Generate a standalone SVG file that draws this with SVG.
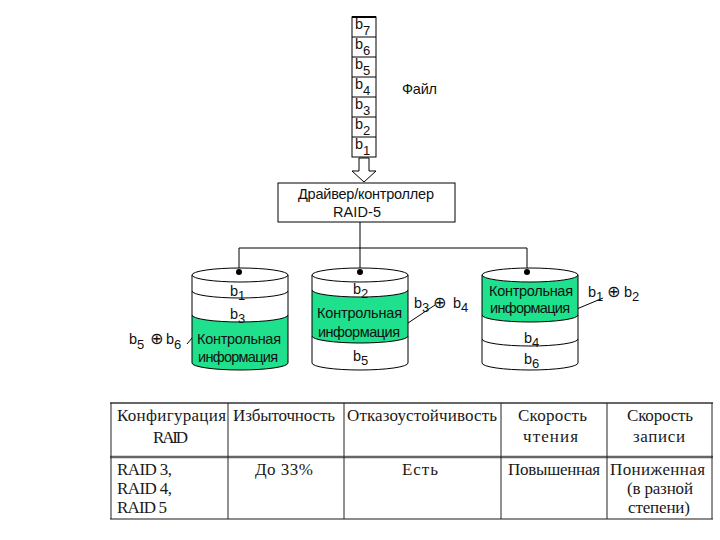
<svg xmlns="http://www.w3.org/2000/svg" width="720" height="540" viewBox="0 0 720 540">
<style>
.t{font-family:"Liberation Sans",Arial,sans-serif;font-size:14.5px;fill:#111}
.sub{font-size:13px}
.x{font-family:"DejaVu Sans",sans-serif;font-size:16px}
.tb{font-family:"Liberation Serif","Times New Roman",serif;font-size:17px;fill:#1a1a1a}
.ln{stroke:#000;stroke-width:1;fill:none}
.g{fill:#1fe08c}
.w{fill:#fff}
</style>
<rect width="720" height="540" fill="#fff"/>

<g id="file">
  <rect x="352" y="17" width="24" height="140" fill="#fff" stroke="#000"/>
  <line x1="352" y1="17" x2="376" y2="17" stroke="#000" stroke-width="2"/>
  <g class="ln">
    <line x1="352" y1="37" x2="376" y2="37"/>
    <line x1="352" y1="57" x2="376" y2="57"/>
    <line x1="352" y1="77" x2="376" y2="77"/>
    <line x1="352" y1="97" x2="376" y2="97"/>
    <line x1="352" y1="117" x2="376" y2="117"/>
    <line x1="352" y1="137" x2="376" y2="137"/>
  </g>
  <text class="t" x="355" y="29">b<tspan class="sub" dy="6">7</tspan></text>
  <text class="t" x="355" y="49">b<tspan class="sub" dy="6">6</tspan></text>
  <text class="t" x="355" y="69">b<tspan class="sub" dy="6">5</tspan></text>
  <text class="t" x="355" y="89">b<tspan class="sub" dy="6">4</tspan></text>
  <text class="t" x="355" y="109">b<tspan class="sub" dy="6">3</tspan></text>
  <text class="t" x="355" y="129">b<tspan class="sub" dy="6">2</tspan></text>
  <text class="t" x="355" y="149">b<tspan class="sub" dy="6">1</tspan></text>
  <text class="t" x="402" y="94" textLength="35">Файл</text>
</g>

<g id="arrow">
  <path d="M359 158 L369 158 L369 171 L376 171 L364 182 L352 171 L359 171 Z" fill="#fff" stroke="#000"/>
</g>

<g id="controller">
  <rect x="278" y="183" width="177" height="39" fill="#fff" stroke="#000"/>
  <text class="t" x="298" y="199" textLength="136">Драйвер/контроллер</text>
  <text class="t" x="333" y="217" textLength="48">RAID-5</text>
</g>

<g id="connectors" class="ln">
  <line x1="360" y1="222" x2="360" y2="248"/>
  <line x1="239" y1="248" x2="527" y2="248"/>
  <line x1="239" y1="248" x2="239" y2="272"/>
  <line x1="360" y1="248" x2="360" y2="272"/>
  <line x1="527" y1="248" x2="527" y2="272"/>
  <line x1="187" y1="344" x2="197" y2="332"/>
  <line x1="408" y1="323" x2="435" y2="305"/>
  <line x1="572" y1="311" x2="603" y2="298"/>
</g>

<g id="disk1">
  <path class="w" d="M192 275 A48 7 0 0 0 288 275 L288 291 A48 7 0 0 1 192 291 Z"/>
  <path class="w" d="M192 291 A48 7 0 0 0 288 291 L288 315 A48 7 0 0 1 192 315 Z"/>
  <path class="g" d="M192 315 A48 7 0 0 0 288 315 L288 363 A48 7 0 0 1 192 363 Z"/>
  <g class="ln">
    <line x1="192" y1="275" x2="192" y2="363"/>
    <line x1="288" y1="275" x2="288" y2="363"/>
    <path d="M192 291 A48 7 0 0 0 288 291"/>
    <path d="M192 315 A48 7 0 0 0 288 315"/>
    <path d="M192 363 A48 7 0 0 0 288 363"/>
    <ellipse cx="240" cy="275" rx="48" ry="7" fill="#fff"/>
  </g>
  <circle cx="239" cy="272" r="3" fill="#000"/>
  <text class="t" x="230" y="296">b<tspan class="sub" dy="4">1</tspan></text>
  <text class="t" x="230" y="319">b<tspan class="sub" dy="4">3</tspan></text>
  <text class="t" x="197" y="344" textLength="84">Контрольная</text>
  <text class="t" x="198" y="362" textLength="80">информация</text>
  <text class="t" x="129" y="344">b<tspan class="sub" dy="5">5</tspan><tspan class="x" x="150" dy="-5">⊕</tspan><tspan x="166">b</tspan><tspan class="sub" dy="5">6</tspan></text>
</g>

<g id="disk2">
  <path class="w" d="M312 275 A48 7 0 0 0 408 275 L408 290 A48 7 0 0 1 312 290 Z"/>
  <path class="g" d="M312 290 A48 7 0 0 0 408 290 L408 336 A48 7 0 0 1 312 336 Z"/>
  <path class="w" d="M312 336 A48 7 0 0 0 408 336 L408 363 A48 7 0 0 1 312 363 Z"/>
  <g class="ln">
    <line x1="312" y1="275" x2="312" y2="363"/>
    <line x1="408" y1="275" x2="408" y2="363"/>
    <path d="M312 290 A48 7 0 0 0 408 290"/>
    <path d="M312 336 A48 7 0 0 0 408 336"/>
    <path d="M312 363 A48 7 0 0 0 408 363"/>
    <ellipse cx="360" cy="275" rx="48" ry="7" fill="#fff"/>
  </g>
  <circle cx="360" cy="272" r="3" fill="#000"/>
  <text class="t" x="353" y="294">b<tspan class="sub" dy="4">2</tspan></text>
  <text class="t" x="317" y="318" textLength="85">Контрольная</text>
  <text class="t" x="318" y="337" textLength="82">информация</text>
  <text class="t" x="353" y="361">b<tspan class="sub" dy="4">5</tspan></text>
  <text class="t" x="414" y="308">b<tspan class="sub" dy="4">3</tspan><tspan class="x" x="433" dy="-4">⊕</tspan><tspan x="453">b</tspan><tspan class="sub" dy="4">4</tspan></text>
</g>

<g id="disk3">
  <path class="g" d="M482 275 A48 7 0 0 0 578 275 L578 315 A48 7 0 0 1 482 315 Z"/>
  <path class="w" d="M482 315 A48 7 0 0 0 578 315 L578 339 A48 7 0 0 1 482 339 Z"/>
  <path class="w" d="M482 339 A48 7 0 0 0 578 339 L578 363 A48 7 0 0 1 482 363 Z"/>
  <g class="ln">
    <line x1="482" y1="275" x2="482" y2="363"/>
    <line x1="578" y1="275" x2="578" y2="363"/>
    <path d="M482 315 A48 7 0 0 0 578 315"/>
    <path d="M482 339 A48 7 0 0 0 578 339"/>
    <path d="M482 363 A48 7 0 0 0 578 363"/>
    <ellipse cx="530" cy="275" rx="48" ry="7" fill="#fff"/>
  </g>
  <circle cx="527" cy="272" r="3" fill="#000"/>
  <text class="t" x="489" y="296" textLength="84">Контрольная</text>
  <text class="t" x="490" y="313" textLength="80">информация</text>
  <text class="t" x="524" y="343">b<tspan class="sub" dy="4">4</tspan></text>
  <text class="t" x="524" y="364">b<tspan class="sub" dy="4">6</tspan></text>
  <text class="t" x="588" y="297">b<tspan class="sub" dy="4">1</tspan><tspan class="x" x="607" dy="-4">⊕</tspan><tspan x="624">b</tspan><tspan class="sub" dy="4">2</tspan></text>
</g>

<g id="table">
  <g stroke="#666" fill="none">
    <line x1="110" y1="403" x2="713" y2="403" stroke-width="2"/>
    <line x1="110" y1="457" x2="713" y2="457" stroke-width="2.5"/>
    <line x1="110" y1="519" x2="713" y2="519" stroke-width="1.5"/>
  </g>
  <g stroke="#222" stroke-width="1">
    <line x1="111" y1="403" x2="111" y2="519"/>
    <line x1="228" y1="403" x2="228" y2="519"/>
    <line x1="344" y1="403" x2="344" y2="519"/>
    <line x1="501" y1="403" x2="501" y2="519"/>
    <line x1="607" y1="403" x2="607" y2="519"/>
    <line x1="712" y1="403" x2="712" y2="519"/>
  </g>
  <text class="tb" x="117" y="421" textLength="109">Конфигурация</text>
  <text class="tb" x="153" y="443" textLength="35">RAID</text>
  <text class="tb" x="233" y="421" textLength="102">Избыточность</text>
  <text class="tb" x="347" y="421" textLength="150">Отказоустойчивость</text>
  <text class="tb" x="518" y="421" textLength="69">Скорость</text>
  <text class="tb" x="523" y="442" textLength="55">чтения</text>
  <text class="tb" x="627" y="421" textLength="66">Скорость</text>
  <text class="tb" x="633" y="442" textLength="52">записи</text>
  <text class="tb" x="117" y="475" textLength="55">RAID 3,</text>
  <text class="tb" x="117" y="494" textLength="55">RAID 4,</text>
  <text class="tb" x="117" y="513" textLength="50">RAID 5</text>
  <text class="tb" x="255" y="475" textLength="58">До 33%</text>
  <text class="tb" x="402" y="475" textLength="36">Есть</text>
  <text class="tb" x="508" y="475" textLength="92">Повышенная</text>
  <text class="tb" x="610" y="475" textLength="95">Пониженная</text>
  <text class="tb" x="627" y="494" textLength="66">(в разной</text>
  <text class="tb" x="628" y="513" textLength="62">степени)</text>
</g>
</svg>
